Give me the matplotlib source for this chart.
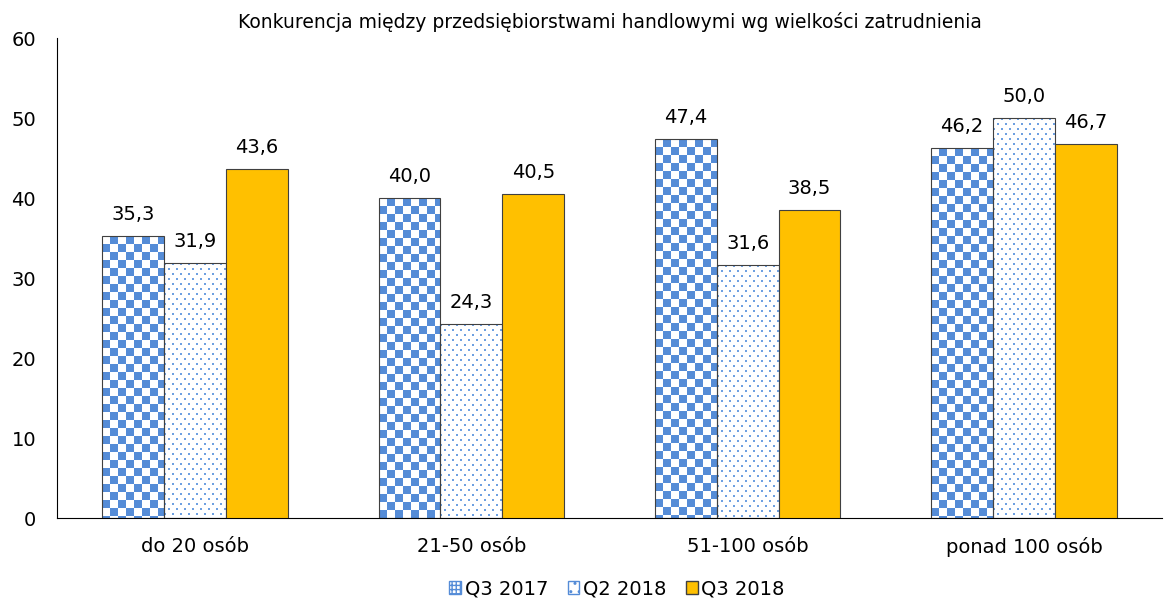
import numpy as np
import matplotlib
matplotlib.use("Agg")
import matplotlib.pyplot as plt
from matplotlib.patches import Patch

categories = ["do 20 osób", "21-50 osób", "51-100 osób", "ponad 100 osób"]
series_names = ["Q3 2017", "Q2 2018", "Q3 2018"]
q3_2017 = [35.3, 40.0, 47.4, 46.2]
q2_2018 = [31.9, 24.3, 31.6, 50.0]
q3_2018 = [43.6, 40.5, 38.5, 46.7]
title = "Konkurencja między przedsiębiorstwami handlowymi wg wielkości zatrudnienia"

BLUE = np.array([85, 140, 215]) / 255.0
DOTBLUE = np.array([110, 160, 225]) / 255.0
YELLOW = "#FFC000"
EDGE = "#404040"

plt.rcParams['font.family'] = ['DejaVu Sans']

W, H = 1164, 603
fig = plt.figure(figsize=(W / 100, H / 100), dpi=100)
ax = fig.add_axes([57 / W, 1 - 518 / H, (1162 - 57) / W, (518 - 38) / H])

x = np.arange(len(categories))
bw = 0.224
ax.set_xlim(-0.5, len(categories) - 0.5)
ax.set_ylim(0, 60)


def checker(h, w, cell=8):
    yy, xx = np.mgrid[0:h, 0:w]
    m = ((yy // cell) + (xx // cell)) % 2 == 1
    img = np.ones((h, w, 3))
    img[m] = BLUE
    return img


def dots(h, w):
    img = np.ones((h, w, 3))
    yy, xx = np.mgrid[0:h, 0:w]
    row = yy // 5
    m = (yy % 5 < 2) & (((xx + (row % 2) * 4) % 8) < 2)
    img[m] = DOTBLUE
    return img


offsets = [-bw, 0, bw]
for vals, off, kind in zip([q3_2017, q2_2018, q3_2018], offsets, ["checker", "dots", "solid"]):
    for xi, v in zip(x, vals):
        x0 = xi + off - bw / 2
        x1 = xi + off + bw / 2
        if kind == "solid":
            ax.bar(xi + off, v, bw, color=YELLOW, edgecolor=EDGE, linewidth=0.8, zorder=3)
        else:
            p0 = ax.transData.transform((x0, 0))
            p1 = ax.transData.transform((x1, v))
            px0, py0 = int(round(p0[0])), int(round(p0[1]))
            w = int(round(p1[0])) - px0
            h = int(round(p1[1])) - py0
            img = checker(h, w) if kind == "checker" else dots(h, w)
            fig.figimage(img, xo=px0, yo=py0, origin='upper', zorder=-1)
            ax.bar(xi + off, v, bw, facecolor='none', edgecolor=EDGE, linewidth=0.8, zorder=3)
        ax.text(xi + off, v + 1.5, f"{v:.1f}".replace(".", ","), ha='center', va='bottom',
                fontsize=14, color='black')

ax.set_facecolor('none')
ax.set_xlim(-0.5, len(categories) - 0.5)
ax.set_ylim(0, 60)
ax.set_yticks(range(0, 61, 10))
ax.set_xticks(x)
ax.set_xticklabels(categories)
ax.tick_params(axis='both', length=0, labelsize=14, colors='black')
ax.tick_params(axis='x', pad=14)
ax.tick_params(axis='y', pad=15)
for s in ['top', 'right']:
    ax.spines[s].set_visible(False)
ax.spines['left'].set_color('black')
ax.spines['bottom'].set_color('black')

ax.set_title(title, fontsize=13.5, pad=7)

handles = [
    Patch(facecolor='white', edgecolor=BLUE, hatch='++++', label=series_names[0]),
    Patch(facecolor='white', edgecolor=BLUE, hatch='..', label=series_names[1]),
    Patch(facecolor=YELLOW, edgecolor=EDGE, label=series_names[2]),
]
fig.legend(handles=handles, loc='center', bbox_to_anchor=(617 / W, 1 - 589 / H), ncol=3,
           frameon=False, fontsize=14, handlelength=0.6, handleheight=0.6,
           handletextpad=0.2, columnspacing=1.0)

fig.savefig("out.png", dpi=100)
